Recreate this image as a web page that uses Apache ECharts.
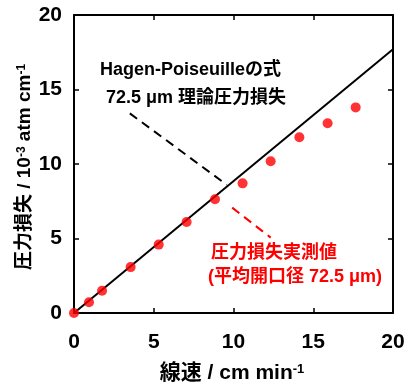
<!DOCTYPE html>
<html>
<head>
<meta charset="utf-8">
<script src="https://cdn.jsdelivr.net/npm/echarts@6/dist/echarts.min.js"></script>
<style>
  html, body { margin: 0; padding: 0; background: #fff; }
  #chart { width: 406px; height: 387px; }
</style>
</head>
<body>
<div id="chart"></div>
<script>
// Measured pressure loss vs. linear velocity
const measuredVelocity = [0, 0.94, 1.76, 3.55, 5.31, 7.06, 8.84, 10.57, 12.33, 14.13, 15.90, 17.66];
const measuredLoss     = [0, 0.72, 1.49, 3.08, 4.59, 6.11, 7.63, 8.70, 10.19, 11.79, 12.73, 13.80];

// Hagen-Poiseuille theoretical loss (straight line through origin)
const theoryVelocity = [0, 20];
const theoryLoss     = [0, 17.7];

// Leader lines for the two annotations, in data units
const theoryLeader   = [[3.5, 13.4], [9.57, 8.61]];
const measuredLeader = [[9.92, 7.07], [12.33, 5.06]];

const xTicks = [0, 5, 10, 15, 20];
const yTicks = [0, 5, 10, 15, 20];

const FONT = "'Liberation Sans', Arial, 'Noto Sans CJK JP', sans-serif";

const chart = echarts.init(document.getElementById('chart'), null, { renderer: 'canvas' });

// Shared settings for the framed box: every side has an axis line with inward ticks
function axisBase(ticks, extra) {
  return Object.assign({
    type: 'value',
    min: ticks[0], max: ticks[ticks.length - 1], interval: ticks[1] - ticks[0],
    axisLine: { show: true, onZero: false, lineStyle: { color: '#000', width: 2 } },
    axisTick: { show: true, inside: true, length: 5, lineStyle: { color: '#000', width: 1.5 } },
    splitLine: { show: false }
  }, extra);
}

const tickLabel = (margin) => ({
  show: true, margin: margin, color: '#000', fontFamily: FONT, fontWeight: 'bold', fontSize: 21
});

const titleRich = (size, supSize) => ({
  t: { fontFamily: FONT, fontWeight: 'bold', fontSize: size, fill: '#000', color: '#000' },
  s: { fontFamily: FONT, fontWeight: 'bold', fontSize: supSize, fill: '#000', color: '#000', verticalAlign: 'top' }
});

chart.setOption({
  animation: false,
  grid: { left: 74, right: 13, top: 15, bottom: 74, outerBoundsMode: 'none' },
  xAxis: [
    axisBase(xTicks, { position: 'bottom', axisLabel: tickLabel(19) }),
    axisBase(xTicks, { position: 'top', axisLabel: { show: false } })
  ],
  yAxis: [
    axisBase(yTicks, { position: 'left', axisLabel: tickLabel(12) }),
    axisBase(yTicks, { position: 'right', axisLabel: { show: false } })
  ],
  series: [
    {
      name: 'theory', type: 'line',
      data: theoryVelocity.map((v, i) => [v, theoryLoss[i]]),
      showSymbol: false, symbol: 'none',
      lineStyle: { color: '#000', width: 2 },
      z: 2,
      markLine: {
        silent: true, symbol: ['none', 'none'],
        label: { show: false },
        data: [
          [{ coord: theoryLeader[0], lineStyle: { color: '#000', type: [9, 6], width: 2 } }, { coord: theoryLeader[1] }],
          [{ coord: measuredLeader[0], lineStyle: { color: '#ff0000', type: [9, 6], width: 2 } }, { coord: measuredLeader[1] }]
        ]
      }
    },
    {
      name: 'measured', type: 'scatter',
      data: measuredVelocity.map((v, i) => [v, measuredLoss[i]]),
      symbol: 'circle', symbolSize: 10,
      itemStyle: { color: '#ff0000' },
      z: 6
    }
  ],
  graphic: [
    // axis titles
    { type: 'text', x: 232, y: 373,
      style: { text: '{t|線速 / cm min}{s|-1}', rich: titleRich(21, 13), align: 'center', verticalAlign: 'middle' } },
    { type: 'text', x: 25, y: 167, rotation: Math.PI / 2,
      style: { text: '{t|圧力損失 / 10}{s|-3}{t| atm cm}{s|-1}', rich: titleRich(19, 12), align: 'center', verticalAlign: 'middle' } },
    // annotations
    { type: 'text', left: 100, top: 61,
      style: { text: 'Hagen-Poiseuilleの式', font: "bold 18px " + FONT, fill: '#000' } },
    { type: 'text', left: 106, top: 89,
      style: { text: '72.5 μm 理論圧力損失', font: "bold 18px " + FONT, fill: '#000' } },
    { type: 'text', left: 211, top: 244,
      style: { text: '圧力損失実測値', font: "bold 18px " + FONT, fill: '#ff0000' } },
    { type: 'text', left: 208, top: 268,
      style: { text: '(平均開口径 72.5 μm)', font: "bold 18px " + FONT, fill: '#ff0000' } }
  ]
});
</script>
</body>
</html>
